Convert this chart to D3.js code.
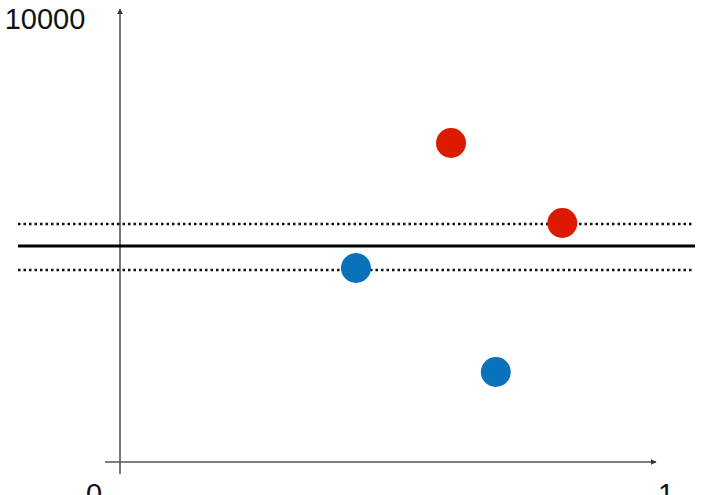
<!DOCTYPE html>
<html>
<head>
<meta charset="utf-8">
<script src="https://cdn.jsdelivr.net/npm/d3@7"></script>
<style>
  body { margin: 0; background: #fff; }
  text { font-family: "Liberation Sans", Arial, sans-serif; }
</style>
</head>
<body>
<svg id="chart"></svg>
<script>
const xDomain = [0, 1];
const yDomain = [0, 10000];
const redX = [0.613, 0.819];
const redY = [7185, 5383];
const blueX = [0.437, 0.696];
const blueY = [4369, 2027];
const meanLine = 4865;
const bandLines = [5360, 4324];

const width = 716;
const height = 495;

const svg = d3.select("#chart").attr("width", width).attr("height", height);

const x = d3.scaleLinear().domain(xDomain).range([120, 660]);
const y = d3.scaleLinear().domain(yDomain).range([462, 18]);

// arrowhead
svg.append("defs")
  .append("marker")
  .attr("id", "arrow")
  .attr("viewBox", "0 0 10 10")
  .attr("refX", 9)
  .attr("refY", 5)
  .attr("markerWidth", 6)
  .attr("markerHeight", 6)
  .attr("markerUnits", "userSpaceOnUse")
  .attr("orient", "auto")
  .append("path")
  .attr("d", "M0,0L10,5L0,10Z")
  .attr("fill", "#333");

// axes
svg.append("line")
  .attr("x1", x(0)).attr("x2", x(0))
  .attr("y1", y(0) + 12).attr("y2", 9)
  .attr("stroke", "#555").attr("stroke-width", 1.6)
  .attr("marker-end", "url(#arrow)");

svg.append("line")
  .attr("x1", x(0) - 15).attr("x2", x(1) - 4)
  .attr("y1", y(0)).attr("y2", y(0))
  .attr("stroke", "#555").attr("stroke-width", 1.6)
  .attr("marker-end", "url(#arrow)");

// labels
svg.append("text").attr("x", 45).attr("y", y(10000) + 11)
  .attr("text-anchor", "middle").attr("font-size", 29).attr("fill", "#111")
  .text("10000");
svg.append("text").attr("x", x(0) - 26).attr("y", y(0) + 42)
  .attr("text-anchor", "middle").attr("font-size", 29).attr("fill", "#111")
  .text("0");
svg.append("text").attr("x", x(1) + 6).attr("y", y(0) + 42)
  .attr("text-anchor", "middle").attr("font-size", 29).attr("fill", "#111")
  .text("1");

// band lines
svg.selectAll(".band")
  .data(bandLines)
  .enter()
  .append("line")
  .attr("class", "band")
  .attr("x1", 18).attr("x2", 694)
  .attr("y1", (d) => y(d)).attr("y2", (d) => y(d))
  .attr("stroke", "#111").attr("stroke-width", 2.5)
  .attr("stroke-dasharray", "2.5,3");

svg.append("line")
  .attr("x1", 18).attr("x2", 695)
  .attr("y1", y(meanLine)).attr("y2", y(meanLine))
  .attr("stroke", "#000").attr("stroke-width", 3);

// points
const points = redX.map((v, i) => ({ x: v, y: redY[i], c: "#dd1a00" }))
  .concat(blueX.map((v, i) => ({ x: v, y: blueY[i], c: "#0a72ba" })));

svg.selectAll(".pt")
  .data(points)
  .enter()
  .append("circle")
  .attr("class", "pt")
  .attr("cx", (d) => x(d.x))
  .attr("cy", (d) => y(d.y))
  .attr("r", 15)
  .attr("fill", (d) => d.c);
</script>
</body>
</html>
